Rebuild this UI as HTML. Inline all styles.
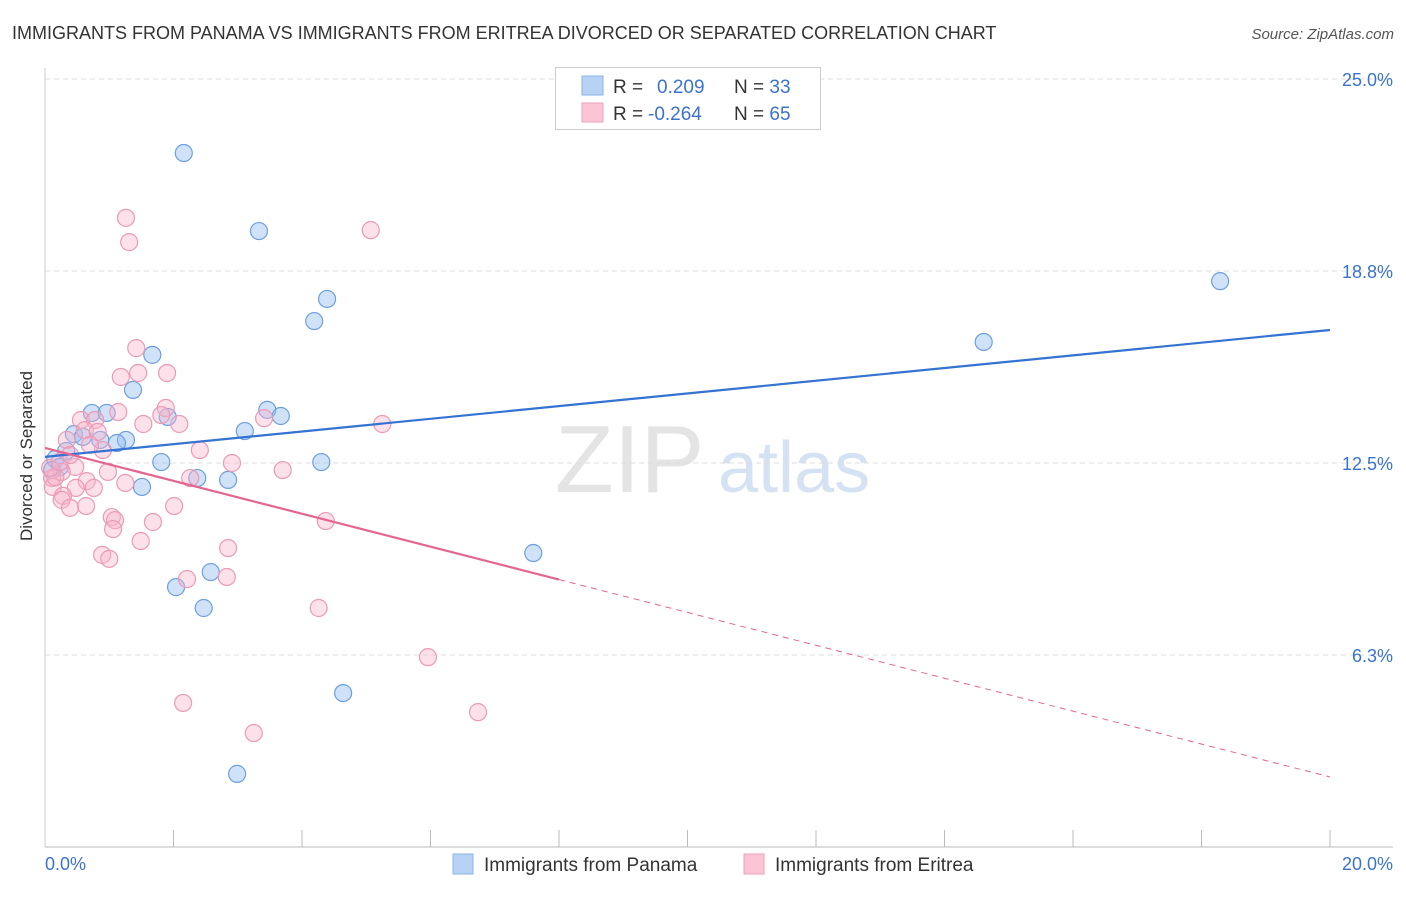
<!DOCTYPE html>
<html><head><meta charset="utf-8"><style>
body{margin:0;background:#fff;font-family:"Liberation Sans",sans-serif;}
svg text{font-family:"Liberation Sans",sans-serif;}
</style></head><body>
<svg id="c" width="1406" height="892">
<text x="12" y="39" font-size="18" fill="#333">IMMIGRANTS FROM PANAMA VS IMMIGRANTS FROM ERITREA DIVORCED OR SEPARATED CORRELATION CHART</text>
<text x="1394" y="39" font-size="15" fill="#555" text-anchor="end" font-style="italic">Source: ZipAtlas.com</text>
<text x="32" y="456" font-size="17" fill="#333" text-anchor="middle" transform="rotate(-90 32 456)">Divorced or Separated</text>
<text x="555" y="492" font-size="96" fill="#e4e4e4" font-family="Liberation Serif">ZIP</text>
<text x="718" y="492" font-size="72" fill="#d4e2f4">atlas</text>
<g id="grid"></g><g id="pts"></g><g id="lines"></g>
<g>
<rect x="555.5" y="67.5" width="265" height="62" fill="#fff" stroke="#ccc"/>
<rect x="582" y="76" width="21" height="19" fill="#b7d2f5" stroke="#8ab3e8"/>
<rect x="582" y="103" width="21" height="19" fill="#fbc5d5" stroke="#eea3bb"/>
<text x="613" y="93" font-size="19" fill="#333">R = <tspan x="657" fill="#3b73cc">0.209</tspan><tspan x="734" fill="#333">N = </tspan><tspan fill="#3b73cc">33</tspan></text>
<text x="613" y="120" font-size="19" fill="#333">R = <tspan x="648" fill="#3b73cc">-0.264</tspan><tspan x="734" fill="#333">N = </tspan><tspan fill="#3b73cc">65</tspan></text>
</g>
<g>
<rect x="453" y="854" width="20" height="20" fill="#b7d2f5" stroke="#8ab3e8"/>
<text x="484" y="871" font-size="19" fill="#333">Immigrants from Panama</text>
<rect x="744" y="854" width="20" height="20" fill="#fbc5d5" stroke="#eea3bb"/>
<text x="775" y="871" font-size="19" fill="#333">Immigrants from Eritrea</text>
</g>
</svg>
<script>
const yTicks=[25,18.75,12.5,6.25];
const yTickLabels=["25.0%","18.8%","12.5%","6.3%"];
const xTickLabels=["0.0%","20.0%"];
const panamaX=[2.16,3.33,4.39,4.19,1.67,1.37,3.46,3.67,0.73,0.96,1.91,3.11,1.26,1.12,0.86,0.45,0.59,0.33,0.16,0.23,0.11,1.81,4.30,2.37,2.85,1.51,7.60,2.58,2.04,2.47,4.64,2.99,14.61,18.29];
const panamaY=[22.59,20.05,17.84,17.12,16.02,14.88,14.23,14.03,14.13,14.13,14.0,13.54,13.25,13.15,13.25,13.44,13.35,12.89,12.63,12.37,12.27,12.53,12.53,12.01,11.95,11.72,9.57,8.95,8.46,7.78,5.01,2.38,16.44,18.42];
const eritreaX=[1.26,1.31,5.07,1.42,1.45,1.90,1.18,1.88,1.81,1.14,2.09,1.53,0.56,0.78,5.25,3.41,0.34,0.62,0.82,0.90,0.70,2.41,2.91,3.70,0.47,0.98,2.26,0.65,0.76,1.25,0.26,0.48,0.11,0.12,0.28,0.26,0.39,0.64,1.04,1.09,1.06,2.01,1.68,1.49,4.37,2.85,0.89,1.00,2.21,2.83,4.26,5.96,2.15,6.74,3.25,0.16,0.08,0.23,0.39];
const eritreaY=[20.48,19.69,20.08,16.24,15.43,15.43,15.30,14.29,14.06,14.16,13.77,13.77,13.90,13.90,13.77,13.96,13.25,13.57,13.51,12.92,13.09,12.92,12.50,12.27,12.37,12.21,12.01,11.91,11.69,11.85,12.21,11.69,12.01,11.72,11.43,11.30,11.04,11.10,10.74,10.64,10.35,11.10,10.58,9.96,10.61,9.73,9.51,9.38,8.72,8.79,7.78,6.18,4.69,4.39,3.71,12.04,12.34,12.53,12.76];
const panamaTrend=[12.70,16.83];
const eritreaTrend=[12.99,2.28];
const eritreaSolidEnd=8.0;
const NS="http://www.w3.org/2000/svg";
const X0=45,X1=1330,Y0=847,YS=30.72;
const sx=v=>X0+(v/20)*(X1-X0);
const sy=v=>Y0-v*YS;
function mk(t,a,p){const e=document.createElementNS(NS,t);for(const k in a)e.setAttribute(k,a[k]);p.appendChild(e);return e;}
const grid=document.getElementById('grid');
yTicks.forEach((t,i)=>{
 const l=mk('line',{x1:X0,x2:1393,y1:sy(t),y2:sy(t),stroke:'#ddd','stroke-dasharray':'5,4'},grid);
 
 
 const tx=mk('text',{x:1393,y:sy(t)+7,'font-size':18,fill:'#3b73cc','text-anchor':'end'},grid);
 tx.textContent=yTickLabels[i];
 
 
});
const ax=mk('line',{x1:X0,x2:1393,y1:Y0,y2:Y0,stroke:'#bbb'},grid);


const ay=mk('line',{x1:X0,x2:X0,y1:68,y2:Y0,stroke:'#ccc'},grid);


for(let i=1;i<=10;i++){
 const t=mk('line',{x1:sx(i*2),x2:sx(i*2),y1:Y0-17,y2:Y0,stroke:'#bbb'},grid);
 
 
}
[[0,'start',45],[20,'end',1393]].forEach((d,i)=>{
 const t=mk('text',{x:d[2],y:870,'font-size':18,fill:'#3b73cc','text-anchor':d[1]},grid);
 t.textContent=xTickLabels[i];
 
 
});
const pts=document.getElementById('pts');
panamaX.forEach((x,i)=>{
 const c=mk('circle',{cx:sx(x),cy:sy(panamaY[i]),r:8.5,fill:'rgba(150,190,240,0.45)',stroke:'#6d9fe0','stroke-width':1.2},pts);
 
 
});
eritreaX.forEach((x,i)=>{
 const c=mk('circle',{cx:sx(x),cy:sy(eritreaY[i]),r:8.5,fill:'rgba(248,180,202,0.4)',stroke:'#eb9ab6','stroke-width':1.2},pts);
 
 
});
const lines=document.getElementById('lines');
const bl=mk('line',{x1:sx(0),y1:sy(panamaTrend[0]),x2:sx(20),y2:sy(panamaTrend[1]),stroke:'#3473d2','stroke-width':2.2},lines);


const pe=eritreaTrend[0]+(eritreaTrend[1]-eritreaTrend[0])*eritreaSolidEnd/20;
const pl=mk('line',{x1:sx(0),y1:sy(eritreaTrend[0]),x2:sx(eritreaSolidEnd),y2:sy(pe),stroke:'#e4668f','stroke-width':2.2},lines);


const pd=mk('line',{x1:sx(eritreaSolidEnd),y1:sy(pe),x2:sx(20),y2:sy(eritreaTrend[1]),stroke:'#e4668f','stroke-width':1,'stroke-dasharray':'6,5'},lines);


</script>
</body></html>
